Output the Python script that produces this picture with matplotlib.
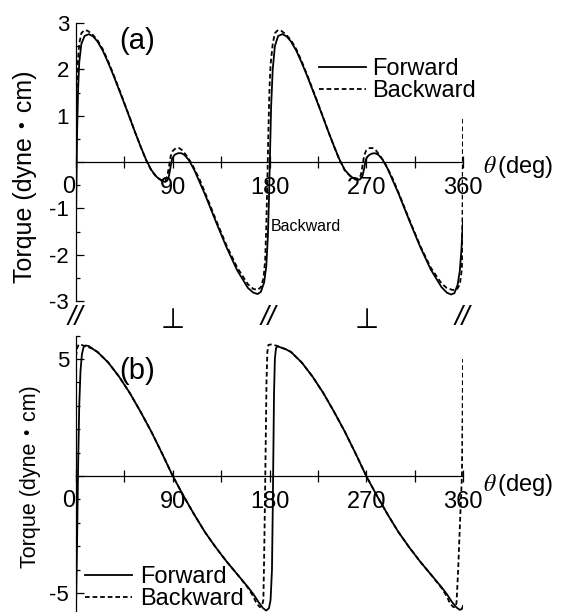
import numpy as np
import matplotlib.pyplot as plt
import matplotlib.transforms as mtransforms
from matplotlib.ticker import MultipleLocator, FuncFormatter

plt.rcParams['font.family'] = ['Liberation Sans', 'Noto Sans CJK JP', 'DejaVu Sans']
plt.rcParams['mathtext.fontset'] = 'stix'
plt.rcParams['axes.unicode_minus'] = False

# panel (a): torque, theta in degrees
theta_a_fwd = [0, 0.5, 1, 2, 3, 5, 8, 12, 16, 20, 25, 30, 35, 40, 45, 50, 55, 60, 65, 70,
               75, 80, 83, 85, 86.5, 88, 89.5, 92, 95, 98, 101, 105, 110, 120, 130, 140,
               150, 160, 165, 169, 172, 175, 177, 178.5, 179.5, 180.5, 181.5, 183, 185,
               188, 192, 196, 200, 205, 210, 215, 220, 225, 230, 235, 240, 245, 250, 255,
               260, 264, 266.5, 268, 269.5, 272, 275, 278, 281, 285, 290, 300, 310, 320,
               330, 340, 345, 349, 352, 355, 357, 358.5, 360]
torque_a_fwd = [-1.25, -0.3, 0.6, 1.6, 2.15, 2.55, 2.72, 2.76, 2.71, 2.6, 2.4, 2.14, 1.86,
                1.56, 1.26, 0.95, 0.64, 0.34, 0.06, -0.17, -0.32, -0.41, -0.43, -0.4,
                -0.3, -0.1, 0.08, 0.16, 0.19, 0.19, 0.15, 0.04, -0.17, -0.7, -1.28, -1.84,
                -2.34, -2.72, -2.82, -2.85, -2.8, -2.6, -2.25, -1.6, -0.8, 0.2, 1.2, 2.0,
                2.5, 2.72, 2.76, 2.71, 2.6, 2.4, 2.14, 1.86, 1.56, 1.26, 0.95, 0.64, 0.34,
                0.06, -0.17, -0.3, -0.38, -0.38, -0.3, -0.15, 0.05, 0.14, 0.18, 0.19, 0.16,
                0.06, -0.15, -0.68, -1.26, -1.82, -2.32, -2.7, -2.82, -2.86, -2.83, -2.65,
                -2.35, -1.9, -1.25]

theta_a_bwd = [0, 0.7, 1.5, 3, 5, 8, 11, 15, 20, 25, 30, 35, 40, 45, 50, 55, 60, 65, 70,
               75, 80, 83, 85, 86.5, 88, 90, 93, 96, 99, 103, 108, 115, 120, 130, 140,
               150, 160, 165, 169, 172, 174.5, 176, 177, 178, 179, 180, 181, 183, 185,
               188, 191, 195, 200, 205, 210, 215, 220, 225, 230, 235, 240, 245, 250, 255,
               260, 263, 265, 266.5, 268, 270, 273, 276, 279, 283, 288, 295, 300, 310,
               320, 330, 340, 345, 350, 354, 357, 359, 359.6, 360]
torque_a_bwd = [0.95, 1.6, 2.1, 2.55, 2.78, 2.85, 2.83, 2.76, 2.63, 2.43, 2.17, 1.88,
                1.58, 1.27, 0.96, 0.64, 0.34, 0.05, -0.18, -0.33, -0.4, -0.4, -0.3, -0.1,
                0.12, 0.24, 0.3, 0.3, 0.25, 0.13, -0.05, -0.38, -0.66, -1.24, -1.8, -2.28,
                -2.64, -2.74, -2.76, -2.7, -2.5, -2.1, -1.4, -0.4, 0.7, 1.6, 2.1, 2.55,
                2.78, 2.85, 2.83, 2.76, 2.63, 2.43, 2.17, 1.88, 1.58, 1.27, 0.96, 0.64,
                0.34, 0.05, -0.18, -0.3, -0.36, -0.36, -0.28, -0.08, 0.14, 0.25, 0.3, 0.3,
                0.25, 0.13, -0.05, -0.38, -0.66, -1.24, -1.8, -2.28, -2.62, -2.72, -2.76,
                -2.76, -2.65, -2.3, -1.0, 0.95]

# panel (b)
theta_b_fwd = [0, 1, 2, 3, 4.2, 5.5, 7, 9, 12, 15, 20, 30, 40, 50, 60, 70, 80, 90, 100,
               110, 120, 130, 140, 150, 160, 165, 170, 174, 177, 179.5, 181, 182.3, 183,
               183.6, 184.2, 185, 186, 187.5, 190, 195, 200, 210, 220, 230, 240, 250, 260,
               270, 280, 290, 300, 310, 320, 330, 340, 345, 350, 354, 357, 359, 360]
torque_b_fwd = [-5.7, -2.8, 0.5, 3.0, 4.5, 5.2, 5.5, 5.58, 5.55, 5.45, 5.3, 4.85, 4.25,
                3.55, 2.75, 1.9, 0.97, 0.0, -0.85, -1.65, -2.4, -3.05, -3.65, -4.2, -4.75,
                -5.05, -5.4, -5.65, -5.75, -5.65, -5.3, -4.0, -1.5, 1.0, 3.5, 5.0, 5.45,
                5.55, 5.5, 5.42, 5.3, 4.85, 4.25, 3.55, 2.75, 1.9, 0.97, 0.0, -0.85, -1.65,
                -2.4, -3.05, -3.65, -4.2, -4.75, -5.05, -5.4, -5.62, -5.72, -5.68, -5.55]

theta_b_bwd = [0, 1, 2.5, 4.5, 7, 10, 15, 20, 30, 40, 50, 60, 70, 80, 90, 100, 110, 120,
               130, 140, 150, 160, 165, 168, 171, 173, 174.3, 175, 175.8, 176.5, 177.2,
               178, 179, 181, 184, 187, 190, 195, 200, 210, 220, 230, 240, 250, 260, 270,
               280, 290, 300, 310, 320, 330, 340, 345, 348, 351, 353, 354, 355.5, 357.2,
               359, 359.6, 360]
torque_b_bwd = [5.1, 5.45, 5.62, 5.62, 5.57, 5.53, 5.45, 5.3, 4.85, 4.25, 3.55, 2.75,
                1.9, 0.97, 0.0, -0.85, -1.65, -2.4, -3.05, -3.65, -4.2, -4.78, -5.15,
                -5.45, -5.6, -5.55, -5.3, -3.5, -1.0, 1.5, 4.0, 5.3, 5.6, 5.62, 5.6, 5.56,
                5.5, 5.42, 5.3, 4.85, 4.25, 3.55, 2.75, 1.9, 0.97, 0.0, -0.85, -1.65, -2.4,
                -3.05, -3.65, -4.2, -4.78, -5.15, -5.45, -5.6, -5.6, -5.4, -4.0, -2.0, 0.0,
                2.5, 5.0]

xtick_vals = [0, 45, 90, 135, 180, 225, 270, 315, 360]
xtick_text = ['', '', '90', '', '180', '', '270', '', '360']
orient_pos = [0, 90, 180, 270, 360]
orient_sym = ['//', '⊥', '//', '⊥', '//']

W, H = 565, 612
fig = plt.figure(figsize=(W / 100, H / 100), dpi=100)


def add_ax(left, top, right, bottom):
    return fig.add_axes([left / W, 1 - bottom / H, (right - left) / W, (bottom - top) / H])


ax_a = add_ax(76, 23, 463, 301)
ax_b = add_ax(76, 335.6, 463, 616.4)

dash = (0, (2.6, 1.6))
ax_a.plot(theta_a_fwd, torque_a_fwd, color='black', lw=1.3, label='Forward')
ax_a.plot(theta_a_bwd, torque_a_bwd, color='black', lw=1.3, ls=dash, label='Backward')
ax_b.plot(theta_b_fwd, torque_b_fwd, color='black', lw=1.3, label='Forward')
ax_b.plot(theta_b_bwd, torque_b_bwd, color='black', lw=1.3, ls=dash, label='Backward')

label_drop = {ax_a: -5, ax_b: -9}
for ax in (ax_a, ax_b):
    ax.set_xlim(0, 360)
    ax.patch.set_visible(False)
    ax.spines['top'].set_visible(False)
    ax.spines['right'].set_visible(False)
    ax.spines['bottom'].set_position(('data', 0))
    ax.spines['bottom'].set_linewidth(0.9)
    ax.spines['left'].set_linewidth(0.9)
    ax.set_xticks(xtick_vals)
    ax.set_xticklabels(xtick_text)
    ax.tick_params(axis='x', direction='inout', length=8, width=0.9, labelsize=17, pad=7)
    ax.tick_params(axis='y', which='major', direction='in', length=6, width=0.9,
                   labelsize=16, pad=5)
    ax.tick_params(axis='y', which='minor', direction='in', length=3, width=0.9)
    ax.yaxis.set_major_formatter(FuncFormatter(lambda v, p: '' if v == 0 else f'{v:g}'))
    ax.annotate('$\\theta\\,$(deg)', xy=(360, 0), xytext=(20, label_drop[ax]),
                textcoords='offset pixels', fontsize=17, ha='left', va='center')
    ax.text(-7, 0, '0', fontsize=17, ha='center', va='top',
            transform=ax.transData + mtransforms.ScaledTranslation(0, -14 / 100, fig.dpi_scale_trans))

ax_a.set_ylim(-3, 3)
ax_a.yaxis.set_major_locator(MultipleLocator(1))
ax_a.yaxis.set_minor_locator(MultipleLocator(0.5))
ax_b.set_ylim(-6, 6)
ax_b.yaxis.set_major_locator(MultipleLocator(5))
ax_b.yaxis.set_minor_locator(MultipleLocator(1))

fig.text(25 / W, 1 - 177 / H, 'Torque (dyne・cm)', rotation=90, fontsize=18,
         ha='center', va='center')
fig.text(31 / W, 1 - 477 / H, 'Torque (dyne・cm)', rotation=90, fontsize=15.5,
         ha='center', va='center')

fig.text(137 / W, 1 - 41 / H, '(a)', fontsize=21, ha='center', va='center')
fig.text(137 / W, 1 - 371 / H, '(b)', fontsize=21, ha='center', va='center')
ax_a.text(181, -1.4, 'Backward', fontsize=11.5, ha='left', va='center')

ax_a.legend(loc='upper left', bbox_to_anchor=(319 / W, 1 - 58 / H), bbox_transform=fig.transFigure,
            frameon=False, fontsize=17, handlelength=2.0, handletextpad=0.25,
            borderpad=0, borderaxespad=0, labelspacing=0.0)
ax_b.legend(loc='upper left', bbox_to_anchor=(85 / W, 1 - 566 / H), bbox_transform=fig.transFigure,
            frameon=False, fontsize=17, handlelength=2.0, handletextpad=0.35,
            borderpad=0, borderaxespad=0, labelspacing=0.0)

sym_trans = mtransforms.blended_transform_factory(ax_a.transData, fig.transFigure)
for pos, sym in zip(orient_pos, orient_sym):
    if sym == '//':
        ax_a.text(pos - 1, 1 - 325 / H, sym, fontsize=20, ha='center', va='baseline',
                  style='italic', transform=sym_trans, clip_on=False)
    else:
        ax_a.text(pos, 1 - 328 / H, sym, fontsize=20, ha='center', va='baseline',
                  family=['DejaVu Sans'], transform=sym_trans, clip_on=False)

fig.savefig('out.png', dpi=100)
